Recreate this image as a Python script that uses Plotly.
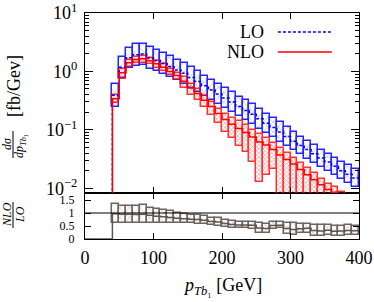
import plotly.graph_objects as go

# ---------------- data ----------------
bin_lo = [40, 50, 60, 70, 80, 90, 100, 110, 120, 130, 140, 150, 160, 170, 180, 190,
          200, 210, 220, 230, 240, 250, 260, 270, 280, 290, 300, 310, 320, 330, 340,
          350, 360, 370, 380, 390]
bin_width = 10

lo_central = [0.39, 1.18, 1.72, 1.93, 1.98, 1.70, 1.53, 1.37, 1.21, 1.06, 0.93, 0.79,
              0.67, 0.57, 0.48, 0.41, 0.35, 0.30, 0.25, 0.215, 0.185, 0.155, 0.13,
              0.11, 0.092, 0.077, 0.064, 0.054, 0.046, 0.039, 0.033, 0.028, 0.0237,
              0.020, 0.0173, 0.0149]
lo_upper = [0.60, 1.76, 2.54, 2.95, 2.95, 2.57, 2.29, 2.09, 1.82, 1.58, 1.38, 1.17,
            1.00, 0.85, 0.72, 0.62, 0.52, 0.44, 0.37, 0.32, 0.275, 0.23, 0.19, 0.162,
            0.135, 0.112, 0.091, 0.076, 0.065, 0.055, 0.046, 0.039, 0.033, 0.028,
            0.0245, 0.021]
lo_lower = [0.25, 0.78, 1.16, 1.25, 1.30, 1.10, 1.01, 0.89, 0.80, 0.70, 0.62, 0.52,
            0.45, 0.38, 0.32, 0.275, 0.235, 0.20, 0.17, 0.145, 0.125, 0.105, 0.088,
            0.075, 0.063, 0.053, 0.045, 0.038, 0.032, 0.027, 0.023, 0.020, 0.017,
            0.0145, 0.0122, 0.0105]

nlo_central = [0.34, 0.95, 1.40, 1.60, 1.65, 1.52, 1.35, 1.18, 1.00, 0.85, 0.68, 0.52,
               0.42, 0.32, 0.25, 0.19, 0.15, 0.125, 0.105, 0.09, 0.075, 0.062, 0.055,
               0.046, 0.037, 0.031, 0.026, 0.021, 0.017, 0.014, 0.0115, 0.0095,
               0.0085, 0.007, 0.0055, 0.0045]
nlo_upper = [0.40, 1.10, 1.54, 1.76, 1.83, 1.67, 1.50, 1.32, 1.12, 0.95, 0.80, 0.62,
             0.50, 0.38, 0.30, 0.23, 0.19, 0.16, 0.14, 0.12, 0.10, 0.085, 0.072, 0.060,
             0.048, 0.040, 0.033, 0.027, 0.022, 0.018, 0.0145, 0.012, 0.0103, 0.0085,
             0.0068, 0.0055]
nlo_lower = [0.29, 0.75, 1.20, 1.40, 1.42, 1.32, 1.15, 1.00, 0.87, 0.72, 0.52, 0.40,
             0.33, 0.25, 0.18, 0.13, 0.092, 0.072, 0.053, 0.041, 0.028, 0.0126, 0.017,
             0.021, 0.0001, 0.0001, 0.0001, 0.0001, 0.0001, 0.0001, 0.0001, 0.0001,
             0.0001, 0.0001, 0.0001, 0.0001]

ratio_central = [0.97, 0.95, 0.95, 0.94, 0.95, 0.91, 0.88, 0.86, 0.83, 0.80, 0.78, 0.76,
                 0.75, 0.72, 0.67, 0.65, 0.60, 0.56, 0.54, 0.54, 0.53, 0.42, 0.40, 0.52,
                 0.53, 0.40, 0.37, 0.39, 0.41, 0.33, 0.31, 0.34, 0.30, 0.31, 0.33, 0.32]
ratio_upper = [1.35, 1.28, 1.28, 1.27, 1.30, 1.20, 1.17, 1.12, 1.06, 1.00, 0.96, 0.93,
               0.92, 0.88, 0.82, 0.80, 0.74, 0.68, 0.67, 0.66, 0.66, 0.60, 0.58, 0.64,
               0.64, 0.60, 0.60, 0.56, 0.58, 0.54, 0.52, 0.54, 0.50, 0.50, 0.52, 0.50]
ratio_lower = [0.60, 0.63, 0.63, 0.62, 0.60, 0.62, 0.60, 0.60, 0.60, 0.60, 0.60, 0.60,
               0.58, 0.56, 0.52, 0.50, 0.46, 0.44, 0.42, 0.42, 0.40, 0.24, 0.22, 0.40,
               0.42, 0.20, 0.15, 0.22, 0.24, 0.12, 0.10, 0.14, 0.10, 0.12, 0.15, 0.14]

x_ticks = [0, 100, 200, 300, 400]
y_ticks_top = [0.01, 0.1, 1, 10]
y_ticktext_top = ["10<sup>−2</sup>", "10<sup>−1</sup>", "10<sup>0</sup>", "10<sup>1</sup>"]
y_ticks_ratio = [0, 0.5, 1, 1.5]
y_ticktext_ratio = ["0", "0.5", "1", "1.5"]

# ---------------- figure ----------------
FONT = "Liberation Serif"
BLUE = "#0000ff"
RED = "#ff0000"
GREY = "#5f5550"

centers = [b + bin_width / 2 for b in bin_lo]
edges = [0] + bin_lo + [bin_lo[-1] + bin_width]

fig = go.Figure()

def band(lower, upper, color, pat_size, sol, lw, xa, ya, opacity=1.0):
    return go.Bar(
        x=centers, base=lower, y=[u - l for u, l in zip(upper, lower)],
        width=bin_width, xaxis=xa, yaxis=ya, showlegend=False, opacity=opacity,
        marker=dict(color="rgba(0,0,0,0)",
                    line=dict(color=color, width=lw),
                    pattern=dict(shape="x", size=pat_size, solidity=sol,
                                 fgcolor=color, bgcolor="rgba(0,0,0,0)",
                                 fillmode="overlay")),
        hoverinfo="skip")

fig.add_trace(band(lo_lower, lo_upper, BLUE, 7, 0.12, 1.5, "x2", "y2", 0.85))
fig.add_trace(band(nlo_lower, nlo_upper, RED, 3, 0.4, 1.5, "x2", "y2", 0.8))

tiny = 1e-5
fig.add_trace(go.Scatter(x=edges, y=[tiny] + lo_central + [lo_central[-1]],
                         mode="lines", line=dict(color=BLUE, width=1.5, dash="3px,2px", shape="hv"),
                         xaxis="x2", yaxis="y2", showlegend=False))
fig.add_trace(go.Scatter(x=edges, y=[tiny] + nlo_central + [nlo_central[-1]],
                         mode="lines", line=dict(color=RED, width=1.5, shape="hv"),
                         xaxis="x2", yaxis="y2", showlegend=False))

fig.add_trace(band(ratio_lower, ratio_upper, GREY, 7, 0.15, 1.5, "x", "y", 0.9))
fig.add_trace(go.Scatter(x=edges, y=[0] + ratio_central + [ratio_central[-1]],
                         mode="lines", line=dict(color=GREY, width=1.5, shape="hv"),
                         xaxis="x", yaxis="y", showlegend=False))

split = 46 / 226

minor_vals = []
for dec in [0.01, 0.1, 1]:
    for k in range(2, 10):
        minor_vals.append(k * dec)

axis_common = dict(showline=True, linecolor="black", linewidth=1, mirror="ticks",
                   ticks="inside", tickcolor="black", showgrid=False, zeroline=False,
                   automargin=False)

fig.update_layout(
    width=374, height=302,
    margin=dict(l=85, r=15, t=13, b=63, autoexpand=False),
    paper_bgcolor="white", plot_bgcolor="white",
    barmode="overlay", bargap=0,
    font=dict(family=FONT, size=18, color="black"),
    xaxis=dict(domain=[0, 1], anchor="y", range=[0, 400], tickvals=x_ticks,
               ticklen=6, tickfont=dict(size=18), ticklabelstandoff=2,
               **axis_common),
    yaxis=dict(domain=[0, split], anchor="x", range=[0, 1.77],
               tickvals=y_ticks_ratio, ticktext=y_ticktext_ratio, ticklen=6,
               tickfont=dict(size=12), ticklabelstandoff=7, **axis_common),
    xaxis2=dict(domain=[0, 1], anchor="y2", range=[0, 400], matches="x",
                tickvals=[100, 200, 300], showticklabels=False, ticklen=6,
                **axis_common),
    yaxis2=dict(domain=[split, 1], anchor="x2", type="log", range=[-2.082, 1],
                tickvals=y_ticks_top, ticktext=y_ticktext_top, ticklen=8,
                tickfont=dict(size=18), ticklabelstandoff=3,
                minor=dict(tickvals=minor_vals, ticks="inside", ticklen=4,
                           tickcolor="black"),
                **axis_common),
)

# reference line at ratio 1
fig.add_shape(type="line", xref="x domain", yref="y", x0=0, x1=1, y0=1, y1=1,
              line=dict(color="black", width=1.2))

# legend (gnuplot style: text left, sample right)
for label, ypos, col, dash in [("LO", 0.916, BLUE, "3px,2px"), ("NLO", 0.827, RED, "solid")]:
    fig.add_annotation(text=label, xref="paper", yref="paper", x=0.66, y=ypos,
                       xanchor="right", yanchor="middle", showarrow=False,
                       font=dict(size=18, family=FONT))
    fig.add_shape(type="line", xref="paper", yref="paper", x0=0.704, x1=0.901,
                  y0=ypos, y1=ypos, line=dict(color=col, width=1.5, dash=dash))

def px_x(px):
    return (px - 85) / 274

def px_y(py):
    return (239 - py) / 226

# x-axis title
fig.add_annotation(text="<i>p</i><sub><i>Tb</i>₁</sub> [GeV]", xref="paper", yref="paper",
                   x=px_x(222), y=px_y(286), showarrow=False,
                   font=dict(size=18, family=FONT), xanchor="center", yanchor="middle")

# y-axis titles built as stacked fractions (rotated)
fig.add_annotation(text="[fb/Gev]", xref="paper", yref="paper", x=px_x(14), y=px_y(86),
                   textangle=-90, showarrow=False, font=dict(size=18, family=FONT),
                   xanchor="center", yanchor="middle")
fig.add_annotation(text="<i>dσ</i>", xref="paper", yref="paper", x=px_x(7), y=px_y(144),
                   textangle=-90, showarrow=False, font=dict(size=12, family=FONT),
                   xanchor="center", yanchor="middle")
fig.add_annotation(text="<i>dp</i><sub><i>Tb</i>₁</sub>", xref="paper", yref="paper",
                   x=px_x(20), y=px_y(146), textangle=-90, showarrow=False,
                   font=dict(size=12, family=FONT), xanchor="center", yanchor="middle")
fig.add_shape(type="line", xref="paper", yref="paper", x0=px_x(13), x1=px_x(13),
              y0=px_y(131), y1=px_y(158), line=dict(color="black", width=1))

fig.add_annotation(text="<i>NLO</i>", xref="paper", yref="paper", x=px_x(7), y=px_y(215),
                   textangle=-90, showarrow=False, font=dict(size=12, family=FONT),
                   xanchor="center", yanchor="middle")
fig.add_annotation(text="<i>LO</i>", xref="paper", yref="paper", x=px_x(20), y=px_y(215),
                   textangle=-90, showarrow=False, font=dict(size=12, family=FONT),
                   xanchor="center", yanchor="middle")
fig.add_shape(type="line", xref="paper", yref="paper", x0=px_x(13), x1=px_x(13),
              y0=px_y(202), y1=px_y(228), line=dict(color="black", width=1))

fig.write_html("out.html", config={"displayModeBar": False},
               post_script="document.body.style.margin='0';document.body.style.padding='0';")
